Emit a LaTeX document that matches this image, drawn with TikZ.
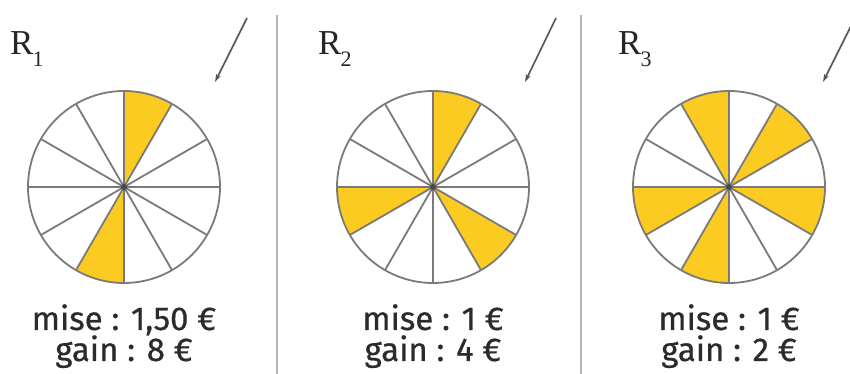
\documentclass[tikz,border=0pt]{standalone}
\usepackage{fontspec}
\setsansfont{Fira Sans}[FakeBold=0.6]
\newfontfamily\namefont{Liberation Serif}
\usetikzlibrary{arrows.meta}
\definecolor{wheel-yellow}{HTML}{FCCB22}
\definecolor{wheel-line}{HTML}{7A7A7A}
\definecolor{rule-gray}{HTML}{B4B4B4}
\definecolor{text-dark}{HTML}{2B2B2B}

\begin{document}
\begin{tikzpicture}[x=1pt, y=1pt, every node/.style={inner sep=0pt},
    spoke/.style={line width=1.8pt, color=wheel-line},
    rim/.style={line width=1.8pt, draw=wheel-line},
    slice/.style={fill=wheel-yellow},
    pointer/.style={-{Stealth[length=8pt, width=5pt]}, line width=1.6pt, color=wheel-line!70!black},
    stake/.style={font=\sffamily\fontsize{33}{33}\selectfont, text=text-dark, anchor=base},
    wheelname/.style={font=\namefont\fontsize{35}{35}\selectfont, text=black!85, anchor=base west}]
    \path[use as bounding box, clip] (0, 0) rectangle (850, 374);
    % separators
    \draw[line width=2pt, color=rule-gray] (277, 0) -- (277, 359);
    \draw[line width=2pt, color=rule-gray] (581, 0) -- (581, 359);
    % wheel R1
    \coordinate (c1) at (124, 187);
    \fill[slice] (c1) -- ++(60:96) arc[start angle=60, end angle=90, radius=96] -- cycle;
    \fill[slice] (c1) -- ++(240:96) arc[start angle=240, end angle=270, radius=96] -- cycle;
    \foreach \a in {0, 30, ..., 150}
      \draw[spoke] (c1) ++(\a:96) -- ++(\a+180:192);
    \draw[rim] (c1) circle[radius=96];
    \fill[wheel-line!60!black] (c1) circle[radius=3];
    \node[wheelname] (r1) at (10, 319) {R\kern-1pt\raisebox{-12pt}{\fontsize{22}{22}\selectfont 1}};
    \coordinate (p1) at (247, 356);
    \coordinate (q1) at (215, 292);
    \draw[pointer] (p1) -- (q1);
    \node[stake] (mise1) at (124, 44) {mise : 1,50 €};
    \node[stake] (gain1) at (124, 13) {gain : 8 €};
    % wheel R2
    \coordinate (c2) at (433, 187);
    \fill[slice] (c2) -- ++(60:96) arc[start angle=60, end angle=90, radius=96] -- cycle;
    \fill[slice] (c2) -- ++(180:96) arc[start angle=180, end angle=210, radius=96] -- cycle;
    \fill[slice] (c2) -- ++(300:96) arc[start angle=300, end angle=330, radius=96] -- cycle;
    \foreach \a in {0, 30, ..., 150}
      \draw[spoke] (c2) ++(\a:96) -- ++(\a+180:192);
    \draw[rim] (c2) circle[radius=96];
    \fill[wheel-line!60!black] (c2) circle[radius=3];
    \node[wheelname] (r2) at (318, 319) {R\kern-1pt\raisebox{-12pt}{\fontsize{22}{22}\selectfont 2}};
    \coordinate (p2) at (556, 356);
    \coordinate (q2) at (525, 292);
    \draw[pointer] (p2) -- (q2);
    \node[stake] (mise2) at (433, 44) {mise : 1 €};
    \node[stake] (gain2) at (433, 13) {gain : 4 €};
    % wheel R3
    \coordinate (c3) at (729, 187);
    \fill[slice] (c3) -- ++(30:96) arc[start angle=30, end angle=60, radius=96] -- cycle;
    \fill[slice] (c3) -- ++(90:96) arc[start angle=90, end angle=120, radius=96] -- cycle;
    \fill[slice] (c3) -- ++(180:96) arc[start angle=180, end angle=210, radius=96] -- cycle;
    \fill[slice] (c3) -- ++(240:96) arc[start angle=240, end angle=270, radius=96] -- cycle;
    \fill[slice] (c3) -- ++(330:96) arc[start angle=330, end angle=360, radius=96] -- cycle;
    \foreach \a in {0, 30, ..., 150}
      \draw[spoke] (c3) ++(\a:96) -- ++(\a+180:192);
    \draw[rim] (c3) circle[radius=96];
    \fill[wheel-line!60!black] (c3) circle[radius=3];
    \node[wheelname] (r3) at (618, 319) {R\kern-1pt\raisebox{-12pt}{\fontsize{22}{22}\selectfont 3}};
    \coordinate (p3) at (855, 356);
    \coordinate (q3) at (823, 292);
    \draw[pointer] (p3) -- (q3);
    \node[stake] (mise3) at (729, 44) {mise : 1 €};
    \node[stake] (gain3) at (729, 13) {gain : 2 €};
\end{tikzpicture}
\end{document}
